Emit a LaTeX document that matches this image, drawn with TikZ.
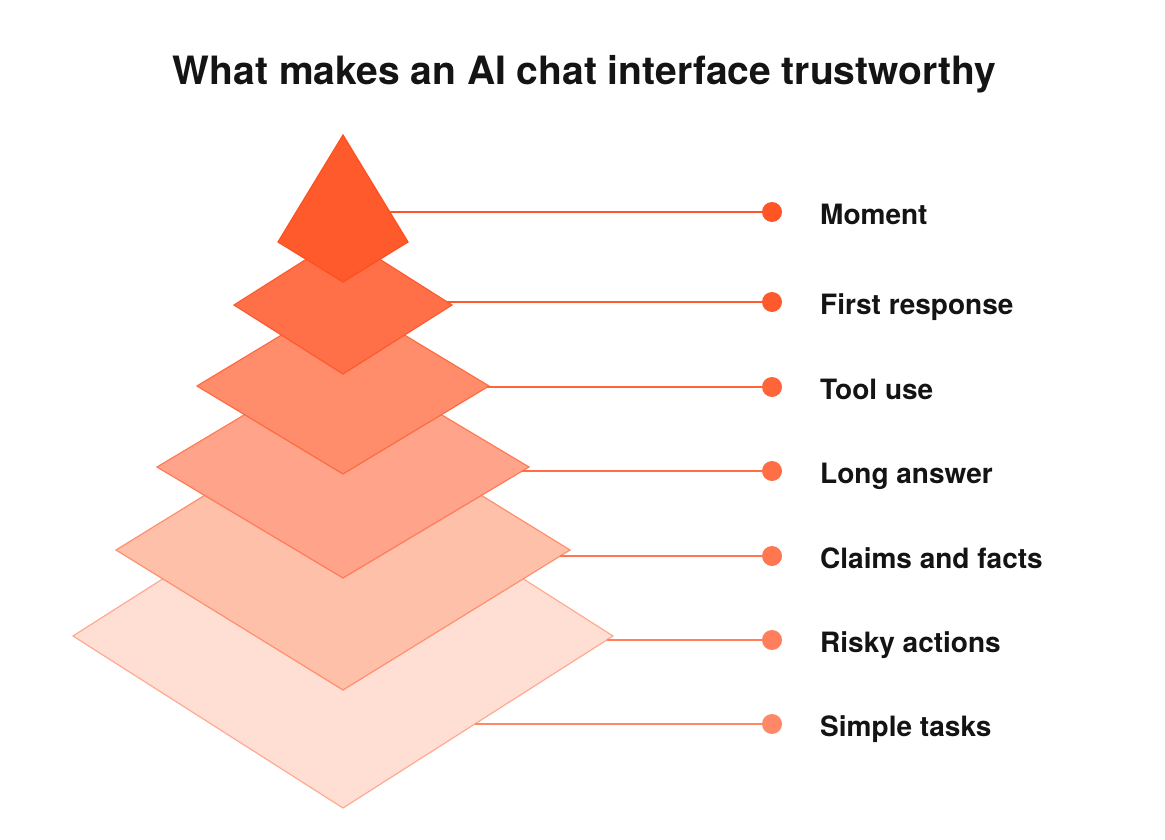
\documentclass[tikz,border=0pt]{standalone}
\usepackage{fontspec}
\setmainfont{TeX Gyre Heros}
\usetikzlibrary{calc}
\definecolor{txt}{HTML}{141414}
\definecolor{fk}{HTML}{FF5A2B}\definecolor{sk}{HTML}{FF4F1F}
\definecolor{fb}{HTML}{FF7048}\definecolor{sb}{HTML}{FF5A2D}
\definecolor{fc}{HTML}{FF8D6B}\definecolor{sc}{HTML}{FF6A40}
\definecolor{fd}{HTML}{FFA48A}\definecolor{sd}{HTML}{FF7A55}
\definecolor{fe}{HTML}{FFC0AA}\definecolor{se}{HTML}{FF8F6E}
\definecolor{ff}{HTML}{FFDFD4}\definecolor{sf}{HTML}{FFAA90}
\definecolor{d1}{HTML}{FF5526}\definecolor{d2}{HTML}{FF5A2D}
\definecolor{d3}{HTML}{FF6538}\definecolor{d4}{HTML}{FF6E45}
\definecolor{d5}{HTML}{FF7650}\definecolor{d6}{HTML}{FF7F5C}
\definecolor{d7}{HTML}{FF8866}
\tikzset{
  layer/.style={line width=1.2pt, line join=miter},
  link/.style={line width=1.3pt},
  dot/.style={circle, inner sep=0pt, minimum size=20pt},
  lbl/.style={anchor=base west, text=txt, font=\bfseries\fontsize{28}{33}\selectfont, inner sep=0pt},
}
\begin{document}
\begin{tikzpicture}[x=1pt,y=-1pt]
\useasboundingbox[fill=white] (0,0) rectangle (1165,840);
% title
\node[anchor=base, text=txt, font=\bfseries\fontsize{39}{46}\selectfont, inner sep=0pt] (title) at (584.5,85) {What makes an AI chat interface trustworthy};
% layers, bottom first
\draw[layer, fill=ff, draw=sf] (73,636) coordinate (L6l) -- (343,464) -- (613,636) coordinate (L6r) -- (343,808) coordinate (L6b) -- cycle;
\draw[layer, fill=fe, draw=se] (116,550) -- (343,410) -- (570,550) -- (343,690) -- cycle;
\draw[layer, fill=fd, draw=sd] (157,467) -- (343,356) -- (529,467) -- (343,578) -- cycle;
\draw[layer, fill=fc, draw=sc] (197,386) -- (343,298) -- (489,386) -- (343,474) -- cycle;
\draw[layer, fill=fb, draw=sb] (234,305) -- (343,236) -- (452,305) -- (343,374) -- cycle;
\draw[layer, fill=fk, draw=sk] (278,242) -- (343,135) -- (408,242) -- (343,282) -- cycle;
% edge anchors
\coordinate (e1) at (389.8,212);
\coordinate (e2) at (447.3,302);
\coordinate (e3) at (487.3,387);
\coordinate (e4) at (522.3,471);
\coordinate (e5) at (560.3,556);
\coordinate (e6) at (606.7,640);
\coordinate (e7) at (474.9,724);
% dots
\node[dot, fill=d1] (p1) at (772,212) {};
\node[dot, fill=d2] (p2) at (772,302) {};
\node[dot, fill=d3] (p3) at (772,387) {};
\node[dot, fill=d4] (p4) at (772,471) {};
\node[dot, fill=d5] (p5) at (772,556) {};
\node[dot, fill=d6] (p6) at (772,640) {};
\node[dot, fill=d7] (p7) at (772,724) {};
% connectors
\draw[link, draw=d1] (e1) -- (p1);
\draw[link, draw=d2] (e2) -- (p2);
\draw[link, draw=d3] (e3) -- (p3);
\draw[link, draw=d4] (e4) -- (p4);
\draw[link, draw=d5] (e5) -- (p5);
\draw[link, draw=d6] (e6) -- (p6);
\draw[link, draw=d7] (e7) -- (p7);
% labels
\node[lbl] (t1) at (820,224) {Moment};
\node[lbl] (t2) at (820,314) {First response};
\node[lbl] (t3) at (820,399) {Tool use};
\node[lbl] (t4) at (820,483) {Long answer};
\node[lbl] (t5) at (820,568) {Claims and facts};
\node[lbl] (t6) at (820,652) {Risky actions};
\node[lbl] (t7) at (820,736) {Simple tasks};
\end{tikzpicture}
\end{document}
